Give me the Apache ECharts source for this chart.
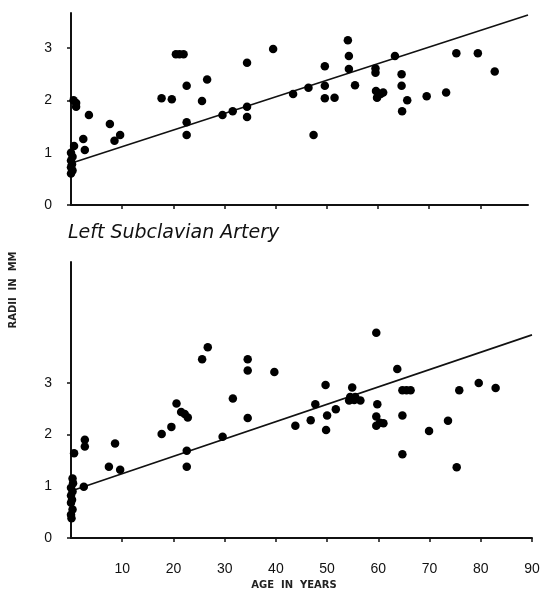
<!DOCTYPE html>
<html><head><meta charset="utf-8">
<script src="https://cdn.jsdelivr.net/npm/echarts@6/dist/echarts.min.js"></script>
<style>html,body{margin:0;padding:0;background:#fff}#c{width:543px;height:590px}</style>
</head><body><div id="c"></div>
<script>
// Top panel (unnamed artery): [age, radius]
const topPoints = [
  [0,1.0],[0.3,0.92],[0,0.85],[0.2,0.78],[0,0.72],[0.3,0.66],[0,0.6],
  [0.5,2.0],[1,1.95],[1,1.88],[0.6,1.13],[3.5,1.72],[2.4,1.26],[2.7,1.05],
  [7.6,1.55],[8.5,1.23],[9.6,1.34],[17.7,2.04],[19.7,2.02],
  [20.5,2.88],[21.2,2.88],[22.0,2.88],[22.6,2.28],[22.6,1.58],[22.6,1.34],
  [25.6,1.99],[26.6,2.4],[29.6,1.72],[31.6,1.79],[34.4,1.88],[34.4,1.68],[34.4,2.72],
  [39.5,2.98],[43.4,2.12],[46.4,2.24],[47.4,1.34],[49.6,2.65],[49.6,2.28],[49.6,2.04],
  [51.5,2.05],[54.1,3.15],[54.3,2.85],[54.3,2.6],[55.5,2.29],[59.5,2.61],[59.5,2.53],
  [59.6,2.18],[61,2.15],[59.8,2.05],[60.5,2.12],[63.3,2.85],[64.6,2.5],[64.6,2.28],
  [65.7,2.0],[64.7,1.79],[69.5,2.08],[73.3,2.15],[75.3,2.9],[79.5,2.9],[82.8,2.55]
];
const topFit = [[0,0.8],[89.3,3.63]];

// Bottom panel: Left Subclavian Artery
const bottomPoints = [
  [0.4,1.06],[0,0.97],[0.3,0.9],[0,0.82],[0.2,0.74],[0,0.68],[0.3,0.55],[0,0.45],[0.1,0.38],
  [0.3,1.15],[0.6,1.64],[2.5,0.99],[2.7,1.9],[2.7,1.77],[7.4,1.38],[8.6,1.83],[9.6,1.32],
  [17.7,2.01],[19.6,2.15],[20.6,2.6],[21.5,2.44],[22.2,2.4],[22.8,2.33],[22.6,1.69],[22.6,1.38],
  [25.6,3.46],[26.7,3.69],[29.6,1.96],[31.6,2.7],[34.5,3.46],[34.5,3.24],[34.5,2.32],[39.7,3.21],
  [43.8,2.17],[46.8,2.28],[47.7,2.59],[49.7,2.96],[50,2.37],[49.8,2.09],[51.7,2.49],[54.9,2.91],
  [54.5,2.73],[55.5,2.73],[56.5,2.66],[54.3,2.66],[55.3,2.67],
  [59.6,3.97],[59.8,2.59],[59.6,2.35],[61,2.22],[59.6,2.17],[60.3,2.23],
  [63.7,3.27],[64.7,2.86],[65.5,2.86],[66.3,2.86],[64.7,2.37],[64.7,1.62],
  [69.9,2.07],[73.6,2.27],[75.8,2.86],[75.3,1.37],[79.6,3.0],[82.9,2.9]
];
const bottomFit = [[0.6,0.93],[90,3.93]];

const yTickValues = [0,1,2,3];
const topXTicks = [10,20,30,40,50,60,70,80];
const bottomXTicks = [10,20,30,40,50,60,70,80,90];

const ink = '#000';
const axLine = {show:true, lineStyle:{color:'#111', width:2}};
const font = 'Liberation Sans, DejaVu Sans, sans-serif';

const chart = echarts.init(document.getElementById('c'), null, {renderer:'canvas'});
chart.setOption({
  backgroundColor:'#fff',
  animation:false,
  title:{text:'Left Subclavian Artery', left:63, top:219,
    textStyle:{fontStyle:'italic', fontWeight:'normal', fontSize:19, color:'#111', fontFamily:'DejaVu Sans, sans-serif'}},
  graphic:[
    {type:'text', x:13, y:290, rotation:Math.PI/2,
     style:{text:'RADII  IN  MM', fontSize:10, fontWeight:'bold', fill:'#222', align:'center', verticalAlign:'middle', fontFamily:'DejaVu Sans, sans-serif'}},
    {type:'text', x:294, y:585,
     style:{text:'AGE  IN  YEARS', fontSize:10, fontWeight:'bold', fill:'#222', align:'center', verticalAlign:'middle', fontFamily:'DejaVu Sans, sans-serif'}}
  ],
  grid:[
    {left:71, top:13, width:457, height:192},
    {left:71, top:262, width:461, height:276}
  ],
  xAxis:[
    {gridIndex:0, type:'value', min:0, max:89.3, axisLine:axLine, splitLine:{show:false},
     axisTick:{show:true, customValues:topXTicks, length:4, lineStyle:{color:'#111',width:1.5}},
     axisLabel:{show:false}},
    {gridIndex:1, type:'value', min:0, max:90, axisLine:axLine, splitLine:{show:false},
     axisTick:{show:true, customValues:bottomXTicks, length:4, lineStyle:{color:'#111',width:1.5}},
     axisLabel:{show:true, customValues:bottomXTicks, margin:24, fontSize:14, color:'#111', fontFamily:font}}
  ],
  yAxis:[
    {gridIndex:0, type:'value', min:0, max:3.67, axisLine:axLine, splitLine:{show:false},
     axisTick:{show:true, customValues:yTickValues, length:4, lineStyle:{color:'#111',width:1.5}},
     axisLabel:{show:true, customValues:yTickValues, margin:19, fontSize:14, color:'#111', fontFamily:font}},
    {gridIndex:1, type:'value', min:0, max:5.34, axisLine:axLine, splitLine:{show:false},
     axisTick:{show:true, customValues:yTickValues, length:4, lineStyle:{color:'#111',width:1.5}},
     axisLabel:{show:true, customValues:yTickValues, margin:19, fontSize:14, color:'#111', fontFamily:font}}
  ],
  series:[
    {type:'line', xAxisIndex:0, yAxisIndex:0, data:topFit, symbol:'none', lineStyle:{color:'#111', width:1.6}, z:1},
    {type:'scatter', xAxisIndex:0, yAxisIndex:0, data:topPoints, symbolSize:8.5, itemStyle:{color:ink, opacity:1}, z:2},
    {type:'line', xAxisIndex:1, yAxisIndex:1, data:bottomFit, symbol:'none', lineStyle:{color:'#111', width:1.6}, z:1},
    {type:'scatter', xAxisIndex:1, yAxisIndex:1, data:bottomPoints, symbolSize:8.5, itemStyle:{color:ink, opacity:1}, z:2}
  ]
});
</script></body></html>
